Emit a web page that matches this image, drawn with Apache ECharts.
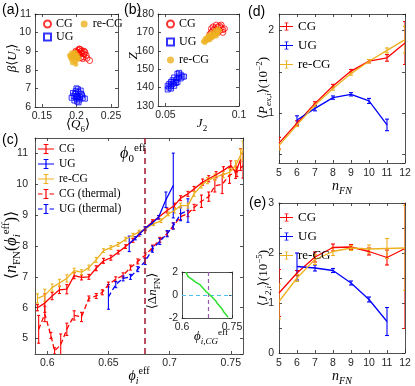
<!DOCTYPE html>
<html>
<head>
<meta charset="utf-8">
<script src="https://cdn.jsdelivr.net/npm/echarts@6/dist/echarts.min.js"></script>
<style>
  html, body { margin: 0; padding: 0; background: #fff; }
  #fig { width: 415px; height: 386px; }
</style>
</head>
<body>
<div id="fig"></div>
<script>
const SANS = "'Liberation Sans', Arial, sans-serif";
const SERIF = "'Liberation Serif', 'DejaVu Serif', serif";
const AX = '#262626';
const RED = '#ff0000', BLUE = '#0000ff', ORANGE = '#edb120';
const GREEN = '#2ee02e', CYAN = '#4dbeee', PURPLE = '#9b59b6', MAROON = '#a2142f';

// ---------- data ----------
// (a) [<Q6>, beta<U_i>]
const aCG = [[0.200,8.95],[0.203,9.05],[0.206,8.98],[0.208,9.02],[0.201,8.85],[0.204,8.80],[0.207,8.90],[0.211,8.85],[0.205,9.10],[0.199,9.00],[0.202,8.75],[0.210,8.70],[0.212,8.95],[0.214,8.78],[0.206,8.65],[0.203,8.92],[0.209,8.60],[0.219,8.50],[0.215,8.62],[0.198,8.88],[0.204,9.12],[0.211,9.00]];
const aUG = [[0.198,6.70],[0.201,6.60],[0.203,6.80],[0.200,6.45],[0.205,6.55],[0.197,6.35],[0.202,6.95],[0.199,6.85],[0.204,6.40],[0.207,6.70],[0.196,6.60],[0.201,6.30],[0.209,6.50],[0.203,6.25],[0.195,6.75],[0.200,7.00],[0.208,6.62],[0.212,6.45],[0.199,6.55],[0.202,6.50],[0.206,6.88],[0.193,6.50]];
const aRe = [[0.191,8.70],[0.194,8.80],[0.197,8.65],[0.199,8.75],[0.193,8.55],[0.196,8.90],[0.200,8.60],[0.198,8.45],[0.192,8.62],[0.201,8.80],[0.194,8.38],[0.197,8.85],[0.190,8.78],[0.199,8.30],[0.202,8.55],[0.196,8.68],[0.193,8.92],[0.200,8.70],[0.203,8.65],[0.198,8.95]];

// (b) [J2, Z]
const bCG = [[0.0813,170],[0.0835,172],[0.0857,173],[0.0879,172.5],[0.0824,171],[0.0846,174],[0.0868,171],[0.0890,171.5],[0.0802,169],[0.0835,170.5],[0.0857,170],[0.0879,174],[0.0901,172],[0.0824,173],[0.0846,171.5],[0.0868,173.5],[0.0813,172],[0.0890,170]];
const bUG = [[0.0516,139],[0.0527,140],[0.0538,141],[0.0549,142],[0.0560,143],[0.0571,144],[0.0582,145],[0.0593,146],[0.0604,147],[0.0527,142],[0.0538,139.5],[0.0549,144],[0.0560,141],[0.0571,142.5],[0.0582,143],[0.0593,148],[0.0604,145],[0.0615,146],[0.0626,146],[0.0538,143],[0.0560,145.5],[0.0582,147.5],[0.0516,141]];
const bRe = [[0.0758,165],[0.0769,166.5],[0.0780,167],[0.0791,166],[0.0802,168],[0.0813,167],[0.0824,169],[0.0835,168.5],[0.0846,170],[0.0857,169.5],[0.0868,171],[0.0780,165.5],[0.0802,166],[0.0824,167.5],[0.0846,168],[0.0791,168.5],[0.0813,169.5],[0.0835,171],[0.0769,164.5],[0.0857,172]];

// (c) [phi_i^eff, <n_FN>, error]
const cCG = [[0.592,6.00,0.10],[0.598,6.15,0.30],[0.604,6.38,0.12],[0.610,6.58,0.12],[0.616,6.60,0.15],[0.622,7.04,0.10],[0.628,6.98,0.08],[0.634,7.00,0.08],[0.640,7.28,0.08],[0.646,7.52,0.08],[0.652,7.62,0.08],[0.658,7.80,0.06],[0.664,7.98,0.06],[0.670,8.18,0.06],[0.675,8.38,0.06],[0.680,8.57,0.06],[0.686,8.79,0.06],[0.691,8.93,0.06],[0.698,9.15,0.08],[0.704,9.31,0.08],[0.709,9.55,0.08],[0.715,9.69,0.08],[0.720,9.85,0.08],[0.727,10.07,0.10],[0.732,10.18,0.10],[0.738,10.31,0.10],[0.744,10.45,0.12],[0.750,10.61,0.15],[0.754,10.39,0.20],[0.758,10.80,0.35]];
const cRe = [[0.592,6.30,0.15],[0.598,6.40,0.20],[0.604,6.65,0.12],[0.610,6.80,0.12],[0.616,6.95,0.12],[0.622,7.20,0.08],[0.628,7.15,0.08],[0.634,7.30,0.08],[0.640,7.55,0.08],[0.646,7.85,0.06],[0.652,7.95,0.06],[0.658,8.05,0.06],[0.664,8.22,0.06],[0.670,8.35,0.06],[0.675,8.45,0.06],[0.680,8.55,0.06],[0.687,8.72,0.06],[0.693,8.82,0.06],[0.699,9.04,0.06],[0.704,9.15,0.08],[0.709,9.31,0.08],[0.715,9.31,0.08],[0.720,9.69,0.08],[0.726,9.96,0.08],[0.731,10.12,0.10],[0.737,10.23,0.10],[0.744,10.31,0.10],[0.749,10.39,0.12],[0.754,10.61,0.15],[0.758,10.94,0.20],[0.760,11.10,0.30]];
const cUG = [[0.667,8.07,0.25],[0.672,8.25,0.05],[0.676,8.42,0.05],[0.680,8.57,0.05],[0.686,8.75,0.05],[0.691,8.93,0.05],[0.697,9.50,0.25],[0.703,9.96,1.05]];
const cCGth = [[0.593,5.30,0.45],[0.598,5.80,0.25],[0.603,5.10,0.10],[0.606,4.60,0.10],[0.611,4.80,0.35],[0.616,5.30,0.20],[0.622,5.75,0.15],[0.628,5.70,0.15],[0.634,6.30,0.08],[0.640,6.38,0.08],[0.645,6.50,0.08],[0.650,6.75,0.08],[0.656,6.92,0.08],[0.662,7.05,0.08],[0.668,7.30,0.08],[0.674,7.50,0.08],[0.680,7.70,0.08],[0.686,7.95,0.08],[0.692,8.20,0.08],[0.698,8.40,0.08],[0.703,8.65,0.10],[0.709,8.95,0.10],[0.715,9.05,0.10],[0.720,9.25,0.10],[0.726,9.45,0.20],[0.732,9.60,0.15],[0.737,9.95,0.20],[0.743,10.00,0.30],[0.749,10.30,0.27],[0.755,10.40,0.15],[0.760,10.60,0.40]];
const cUGth = [[0.650,6.35,0.40],[0.656,6.75,0.10],[0.662,6.95,0.08],[0.668,7.00,0.08],[0.674,7.25,0.08],[0.680,7.50,0.10],[0.686,7.90,0.10],[0.692,8.15,0.10],[0.698,8.40,0.10],[0.703,8.65,0.10],[0.709,9.04,0.22],[0.715,9.15,0.38]];
const PHI0 = 0.68;

// inset [phi_i,CG^eff, <dn_FN>]
const insetDn = [[0.612,2.0],[0.618,1.6],[0.624,1.45],[0.630,1.35],[0.636,1.2],[0.642,1.1],[0.648,1.0],[0.654,0.9],[0.660,0.75],[0.666,0.5],[0.672,0.3],[0.678,0.15],[0.684,0.0],[0.690,-0.15],[0.696,-0.35],[0.702,-0.55],[0.708,-0.8],[0.714,-1.0],[0.720,-1.2],[0.726,-1.5],[0.732,-1.7],[0.738,-1.95]];
const INSET_PHI = 0.675;

// (d), (e) vs n_FN
const nFN = [5, 6, 7, 8, 9, 10, 11, 12];
const dCG = [0.64, 0.88, 1.12, 1.33, 1.51, 1.63, 1.67, 1.85];
const dCGerr = [0.07, 0.03, 0.02, 0.02, 0.02, 0.02, 0.04, 0.26];
const dUG = [null, 0.92, 1.06, 1.19, 1.23, 1.15, 0.86, null];
const dUGerr = [null, 0.05, 0.03, 0.02, 0.02, 0.03, 0.07, null];
const dRe = [0.61, 0.86, 1.10, 1.30, 1.48, 1.63, 1.76, 1.89];
const dReErr = [0.05, 0.02, 0.02, 0.02, 0.02, 0.02, 0.03, 0.16];
const eCG = [1.20, 1.60, 1.92, 2.11, 2.12, 2.03, 1.91, 2.09];
const eCGerr = [0.47, 0.05, 0.10, 0.07, 0.05, 0.07, 0.15, 1.60];
const eUG = [null, 1.73, 1.70, 1.65, 1.40, 1.07, 0.63, null];
const eUGerr = [null, 0.27, 0.06, 0.04, 0.04, 0.05, 0.28, null];
const eRe = [1.03, 1.50, 1.87, 2.03, 2.10, 2.08, 2.09, 2.10];
const eReErr = [0.35, 0.07, 0.10, 0.08, 0.05, 0.08, 0.20, 0.85];

// ---------- helpers ----------
const triples = (xs, ys, es) => xs.map((x, i) => [x, ys[i], es[i]]).filter(p => p[1] != null);

function rich(fs) {
  const lh = Math.round(fs * 1.4), ss = Math.round(fs * 0.7);
  return {
    r: { fontFamily: SERIF, fontSize: fs, lineHeight: lh, fill: '#000' },
    i: { fontFamily: SERIF, fontSize: fs, lineHeight: lh, fontStyle: 'italic', fill: '#000' },
    sub: { fontFamily: SERIF, fontSize: ss, lineHeight: ss, verticalAlign: 'bottom', fill: '#000' },
    subi: { fontFamily: SERIF, fontSize: ss, lineHeight: ss, verticalAlign: 'bottom', fontStyle: 'italic', fill: '#000' },
    sup: { fontFamily: SERIF, fontSize: ss, lineHeight: ss, verticalAlign: 'top', fill: '#000' }
  };
}

// axis title / panel text placed at a centre point
function title(x, y, text, fs, vertical) {
  return {
    type: 'text', x: x, y: y, rotation: vertical ? Math.PI / 2 : 0, z: 10,
    style: { text: text, rich: rich(fs), align: 'center', verticalAlign: 'middle' }
  };
}

function axes(dim, g, o) {
  const base = {
    gridIndex: g, type: 'value', min: o.min, max: o.max,
    minInterval: o.step, maxInterval: o.step,
    splitLine: { show: false },
    axisLine: { show: true, onZero: false, lineStyle: { color: AX, width: 0.8 } },
    axisTick: { show: true, inside: true, length: 3, lineStyle: { color: AX, width: 0.8 } }
  };
  const main = Object.assign({}, base, {
    position: dim === 'x' ? 'bottom' : 'left',
    axisLabel: {
      fontFamily: SANS, fontSize: 10.5, color: AX, margin: o.margin || 4,
      showMinLabel: o.showMin !== false, showMaxLabel: o.showMax !== false, formatter: o.fmt
    }
  });
  const mirror = Object.assign({}, base, { position: dim === 'x' ? 'top' : 'right', axisLabel: { show: false } });
  return [main, mirror];
}

const intOnly = v => (Number.isInteger(Math.round(v * 1000) / 1000) ? String(Math.round(v)) : '');

function errRender(cap) {
  return function (params, api) {
    const x = api.value(0), y = api.value(1), e = api.value(2);
    const top = api.coord([x, y + e]);
    const bot = api.coord([x, y - e]);
    const style = { stroke: api.visual('color'), lineWidth: 1.1 };
    return {
      type: 'group',
      children: [
        { type: 'line', shape: { x1: top[0], y1: top[1], x2: bot[0], y2: bot[1] }, style },
        { type: 'line', shape: { x1: top[0] - cap, y1: top[1], x2: top[0] + cap, y2: top[1] }, style },
        { type: 'line', shape: { x1: bot[0] - cap, y1: bot[1], x2: bot[0] + cap, y2: bot[1] }, style }
      ]
    };
  };
}

function errSeries(name, g, data, color, cap, dashed, extra) {
  return [
    Object.assign({
      type: 'line', name: name, xAxisIndex: 2 * g, yAxisIndex: 2 * g,
      data: data.map(d => [d[0], d[1]]), color: color, symbol: 'none',
      lineStyle: { width: 1.3, type: dashed ? [5, 3] : 'solid' }
    }, extra || {}),
    {
      type: 'custom', name: name + ' err', xAxisIndex: 2 * g, yAxisIndex: 2 * g,
      data: data, itemStyle: { color: color }, clip: true,
      encode: { x: 0, y: 1 }, renderItem: errRender(cap)
    }
  ];
}

function cloud(name, g, data, symbol, color, filled, size) {
  return {
    type: 'scatter', name: name, xAxisIndex: 2 * g, yAxisIndex: 2 * g, data: data,
    symbol: symbol, symbolSize: size,
    itemStyle: filled ? { color: color } : { color: 'transparent', borderColor: color, borderWidth: 1 }
  };
}

const ICON = 'path://M0,4.4h16v1.2h-16z M7.4,0h1.2v10h-1.2z M5.6,0h4.8v1h-4.8z M5.6,9h4.8v1h-4.8z';
const ICON_D = 'path://M0,4.4h4.5v1.2h-4.5z M11.5,4.4h4.5v1.2h-4.5z M7.4,0h1.2v10h-1.2z M5.6,0h4.8v1h-4.8z M5.6,9h4.8v1h-4.8z';
const legFmt = n => n.split('|')[1];
const legBase = (fs) => ({ selectedMode: false, formatter: legFmt, padding: 0,
  textStyle: { fontFamily: SERIF, fontSize: fs, color: '#000' } });

// ---------- chart ----------
const chart = echarts.init(document.getElementById('fig'), null, { renderer: 'canvas' });

const dData = [triples(nFN, dCG, dCGerr), triples(nFN, dUG, dUGerr), triples(nFN, dRe, dReErr)];
const eData = [triples(nFN, eCG, eCGerr), triples(nFN, eUG, eUGerr), triples(nFN, eRe, eReErr)];

const option = {
  animation: false,
  grid: [
    { left: 35, top: 14, width: 83, height: 93 },    // a
    { left: 158, top: 14, width: 81, height: 92 },   // b
    { left: 35, top: 138, width: 208, height: 216 }, // c
    { left: 279, top: 14, width: 126, height: 149 }, // d
    { left: 279, top: 203, width: 126, height: 150 },// e
    { left: 182, top: 272, width: 50, height: 46, show: true, backgroundColor: '#fff', borderWidth: 0 } // inset
  ],
  xAxis: [
    ...axes('x', 0, { min: 0.14, max: 0.26, step: 0.05, showMin: false, showMax: false }),
    ...axes('x', 1, { min: 0.045, max: 0.1, step: 0.05, showMin: false }),
    ...axes('x', 2, { min: 0.59, max: 0.76, step: 0.05, showMin: false, showMax: false }),
    ...axes('x', 3, { min: 5, max: 12, step: 1, margin: 5 }),
    ...axes('x', 4, { min: 5, max: 12, step: 1, margin: 5 }),
    ...axes('x', 5, { min: 0.6, max: 0.75, step: 0.15 })
  ],
  yAxis: [
    ...axes('y', 0, { min: 6, max: 11, step: 1 }),
    ...axes('y', 1, { min: 130, max: 180, step: 10 }),
    ...axes('y', 2, { min: 4.5, max: 11.5, step: 1, margin: 7, showMin: false, showMax: false }),
    ...axes('y', 3, { min: 0.4, max: 2.2, step: 0.5, margin: 5, showMin: false, showMax: false, fmt: intOnly }),
    ...axes('y', 4, { min: 0, max: 3, step: 0.5, margin: 5, fmt: intOnly }),
    ...axes('y', 5, { min: -2, max: 2, step: 2 })
  ],
  legend: [
    Object.assign(legBase(12), { left: 43, top: 18, itemWidth: 7, itemHeight: 7, itemGap: 8, data: ['a|CG', 'a|re-CG'] }),
    Object.assign(legBase(12), { left: 43, top: 31, itemWidth: 7, itemHeight: 7, data: ['a|UG'] }),
    Object.assign(legBase(12), { left: 166, top: 18, orient: 'vertical', itemWidth: 7, itemHeight: 7, itemGap: 6, data: ['b|CG', 'b|UG', 'b|re-CG'] }),
    Object.assign(legBase(11.5), { left: 38, top: 143, orient: 'vertical', itemWidth: 16, itemHeight: 10, itemGap: 3,
      data: [{ name: 'c|CG', icon: ICON }, { name: 'c|UG', icon: ICON }, { name: 'c|re-CG', icon: ICON },
             { name: 'c|CG (thermal)', icon: ICON_D }, { name: 'c|UG (thermal)', icon: ICON_D }] }),
    Object.assign(legBase(13), { left: 280, top: 20, orient: 'vertical', itemWidth: 13, itemHeight: 10, itemGap: 6,
      data: [{ name: 'd|CG', icon: ICON }, { name: 'd|UG', icon: ICON }, { name: 'd|re-CG', icon: ICON }] }),
    Object.assign(legBase(13), { left: 280, top: 211, orient: 'vertical', itemWidth: 13, itemHeight: 10, itemGap: 6,
      data: [{ name: 'e|CG', icon: ICON }, { name: 'e|UG', icon: ICON }, { name: 'e|re-CG', icon: ICON }] })
  ],
  graphic: [
    { type: 'text', left: 2, top: 3, style: { text: '(a)', font: '14px ' + SANS, fill: '#000' } },
    { type: 'text', left: 124, top: 3, style: { text: '(b)', font: '14px ' + SANS, fill: '#000' } },
    { type: 'text', left: 2, top: 133, style: { text: '(c)', font: '14px ' + SANS, fill: '#000' } },
    { type: 'text', left: 248, top: 5, style: { text: '(d)', font: '14px ' + SANS, fill: '#000' } },
    { type: 'text', left: 249, top: 196, style: { text: '(e)', font: '14px ' + SANS, fill: '#000' } },
    title(133, 154, '{i|ϕ}{sub|0}{sup|eff}', 16, false),
    // axis titles
    title(13, 58, '{i|β}{r|⟨}{i|U}{subi|i}{r|⟩}', 13, true),
    title(78, 125, '{r|⟨}{i|Q}{sub|6}{r|⟩}', 13, false),
    title(134, 56, '{i|Z}', 13, true),
    title(202, 124, '{i|J}{sub|2}', 13, false),
    title(12, 245, '{r|⟨}{i|n}{sub|FN}{r|(}{i|ϕ}{subi|i}{sup|eff}{r|)⟩}', 16, true),
    title(139, 376, '{i|ϕ}{subi|i}{sup|eff}', 14, false),
    title(264, 88, '{r|⟨}{i|P}{subi|ex,i}{r|⟩(10}{sup|−2}{r|)}', 13, true),
    title(342, 186, '{i|n}{subi|FN}', 14, false),
    title(264, 278, '{r|⟨}{i|J}{subi|2,i}{r|⟩(10}{sup|−5}{r|)}', 13, true),
    title(342, 376, '{i|n}{subi|FN}', 14, false),
    title(153, 291, '{r|⟨Δ}{i|n}{sub|FN}{r|⟩}', 13, true),
    title(211, 337, '{i|ϕ}{subi|i,CG}{sup|eff}', 13, false)
  ],
  series: [
    cloud('a|CG', 0, aCG, 'circle', RED, false, 6),
    cloud('a|UG', 0, aUG, 'rect', BLUE, false, 5),
    cloud('a|re-CG', 0, aRe, 'circle', ORANGE, true, 5),
    cloud('b|CG', 1, bCG, 'circle', RED, false, 6),
    cloud('b|UG', 1, bUG, 'rect', BLUE, false, 5),
    cloud('b|re-CG', 1, bRe, 'circle', ORANGE, true, 5),

    ...errSeries('c|CG (thermal)', 2, cCGth, RED, 1.5, true, {
      markLine: { silent: true, symbol: 'none', label: { show: false },
        lineStyle: { color: MAROON, type: [6, 4], width: 1.5 }, data: [{ xAxis: PHI0 }] }
    }),
    ...errSeries('c|UG (thermal)', 2, cUGth, BLUE, 1.5, true),
    ...errSeries('c|CG', 2, cCG, RED, 1.5, false),
    ...errSeries('c|re-CG', 2, cRe, ORANGE, 1.5, false),
    ...errSeries('c|UG', 2, cUG, BLUE, 1.5, false),

    ...errSeries('d|CG', 3, dData[0], RED, 2, false),
    ...errSeries('d|UG', 3, dData[1], BLUE, 2, false),
    ...errSeries('d|re-CG', 3, dData[2], ORANGE, 2, false),
    ...errSeries('e|CG', 4, eData[0], RED, 2, false),
    ...errSeries('e|UG', 4, eData[1], BLUE, 2, false),
    ...errSeries('e|re-CG', 4, eData[2], ORANGE, 2, false),

    {
      type: 'line', name: 'inset', xAxisIndex: 10, yAxisIndex: 10, data: insetDn,
      color: GREEN, symbol: 'path://M0,5h10M5,0v10', symbolSize: 3, showSymbol: true,
      lineStyle: { width: 1.5 }, z: 5,
      markLine: { silent: true, symbol: 'none', label: { show: false }, lineStyle: { type: [4, 3], width: 1.2 },
        data: [{ yAxis: 0, lineStyle: { color: CYAN } }, { xAxis: INSET_PHI, lineStyle: { color: PURPLE } }] }
    }
  ]
};

chart.setOption(option);
</script>
</body>
</html>
